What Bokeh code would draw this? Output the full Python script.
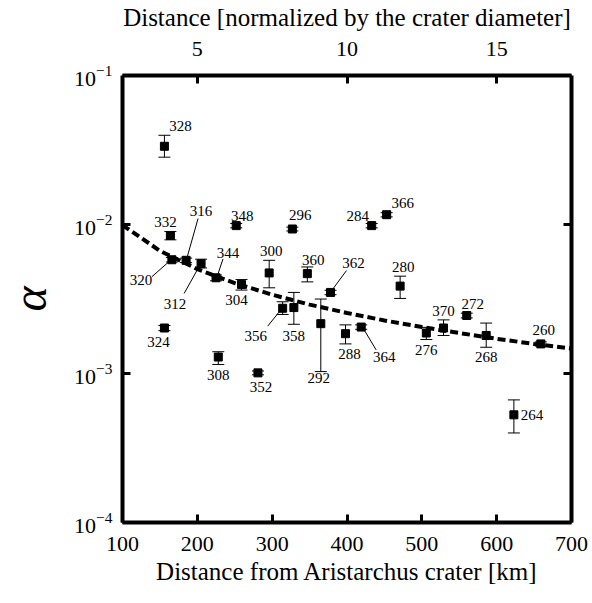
from bokeh.plotting import figure
from bokeh.models import (ColumnDataSource, Whisker, TeeHead, LinearAxis, LogAxis,
                          Range1d, FixedTicker, LogTicker, CustomJSTickFormatter)
from bokeh.core.properties import value
from bokeh.embed import file_html
from bokeh.resources import INLINE

# ---- data ----
ids = ["328", "332", "348", "296", "284", "366", "316", "320", "312", "344",
       "304", "300", "356", "358", "324", "308", "352", "360", "362", "292",
       "288", "364", "280", "370", "276", "272", "268", "260", "264"]
dist_km = [156, 164, 252, 327, 433, 453, 185, 166, 205, 225,
           259, 296, 314, 329, 156, 228, 281, 347, 378, 365,
           398, 419, 471, 529, 506, 560, 586, 659, 623]
alpha = [0.0335, 0.00844, 0.00983, 0.00933, 0.00983, 0.01164, 0.00575, 0.00580, 0.00546, 0.00439,
         0.00396, 0.00473, 0.00274, 0.00277, 0.00202, 0.00129, 0.00101, 0.00468, 0.00350, 0.00216,
         0.00185, 0.00205, 0.00386, 0.00202, 0.00187, 0.00245, 0.00180, 0.00158, 0.000528]
alpha_lo = [0.0283, 0.00789, 0.00950, 0.00905, 0.00950, 0.01125, 0.00555, 0.00560, 0.00511, 0.00419,
            0.00363, 0.00376, 0.00249, 0.00214, 0.00194, 0.00115, 0.00098, 0.00412, 0.00338, 0.00103,
            0.00158, 0.00198, 0.00319, 0.00180, 0.00169, 0.00236, 0.00150, 0.00153, 0.000399]
alpha_hi = [0.0397, 0.00897, 0.01015, 0.00960, 0.01015, 0.01200, 0.00595, 0.00600, 0.00585, 0.00458,
            0.00427, 0.00575, 0.00303, 0.00350, 0.00210, 0.00140, 0.00104, 0.00519, 0.00362, 0.00316,
            0.00212, 0.00212, 0.00450, 0.00229, 0.00204, 0.00254, 0.00218, 0.00163, 0.000665]

fit_km = [100, 150, 200, 250, 300, 350, 400, 450, 500, 550, 600, 650, 700]
fit_alpha = [0.0099, 0.00666, 0.00502, 0.00404, 0.00338, 0.00290, 0.00255,
             0.00227, 0.00205, 0.00187, 0.00171, 0.00158, 0.00147]

x_ticks = [100, 200, 300, 400, 500, 600, 700]
top_ticks = [5, 10, 15]

# ---- label placement (screen px offsets from each point; +dy = down) ----
label_dx = [16, -5, 6, 8, -14, 16, 15, -31, -26, 12,
            -5, 2, -27, 0, -6, 0, 3, 6, 23, -2,
            4, 23, 3, 0, 0, 6, 0, 3, 18]
label_dy = [-20, -13, -10, -14, -10, -12, -49, 20, 40, -25,
            16, -22, 28, 28, 14, 18, 14, -14, -29, 54,
            20, 30, -19, -17, 17, -12, 22, -14, 0]
# leader lines: id -> (dx0, dy0, dx1, dy1) in px relative to point
leaders = {"316": (12, -42, 1, -3), "320": (-20, 17, -3, 2), "312": (-17, 30, -2, 3),
           "344": (7, -19, 2, -4), "356": (-15, 18, -3, 3), "362": (16, -22, 2, -3),
           "364": (15, 23, 3, 3)}

W, H = 592, 587
BL, BT = 120, 72
FRAME_W, FRAME_H = 451, 450
BR = W - BL - FRAME_W
BB = H - BT - FRAME_H
X0, X1 = 100, 700
PX_PER_KM = FRAME_W / (X1 - X0)
PX_PER_DEC = FRAME_H / 3.0

SERIF = "Liberation Serif"

p = figure(width=W, height=H,
           x_range=Range1d(X0, X1), y_range=Range1d(1e-4, 1e-1),
           y_axis_type="log", output_backend="svg", toolbar_location=None,
           min_border_left=BL, min_border_top=BT, min_border_right=BR,
           min_border_bottom=BB, x_axis_location="below", y_axis_location="left")
p.grid.visible = False
p.outline_line_color = None

def style_axis(ax, label_size="22px"):
    ax.axis_line_width = 4
    ax.axis_line_color = "black"
    ax.major_tick_in = 8
    ax.major_tick_out = 0
    ax.major_tick_line_width = 3
    ax.minor_tick_in = 0
    ax.minor_tick_out = 0
    ax.major_label_text_font = SERIF
    ax.major_label_text_font_size = label_size
    ax.major_label_text_color = "black"
    ax.axis_label_text_font = SERIF
    ax.axis_label_text_font_style = "normal"
    ax.axis_label_text_color = "black"

# bottom axis
xb = p.xaxis[0]
style_axis(xb, "22px")
xb.ticker = FixedTicker(ticks=x_ticks)
xb.axis_label = "Distance from Aristarchus crater [km]"
xb.axis_label_text_font_size = "25px"
xb.major_label_standoff = 14
xb.axis_label_standoff = 4

# left axis
yl = p.yaxis[0]
style_axis(yl, "22px")
yl.ticker = LogTicker(num_minor_ticks=0)
yl.major_label_standoff = 10
yl.axis_label = "α"
yl.axis_label_text_font_style = "italic"
yl.axis_label_text_font_size = "48px"
yl.axis_label_standoff = 15

# top axis
p.extra_x_ranges = {"norm": Range1d(X0 / 40.0, X1 / 40.0)}
xt = LinearAxis(x_range_name="norm", ticker=FixedTicker(ticks=top_ticks),
                axis_label="Distance [normalized by the crater diameter]")
style_axis(xt, "22px")
xt.axis_label_text_font_size = "25px"
xt.major_label_standoff = 20
xt.axis_label_standoff = 8
p.add_layout(xt, "above")

# right axis (ticks only)
yr = LogAxis(ticker=LogTicker(num_minor_ticks=0),
             formatter=CustomJSTickFormatter(code="return ''"))
style_axis(yr, "1px")
yr.major_label_standoff = 0
p.add_layout(yr, "right")

# fit line
p.line(fit_km, fit_alpha, line_color="black", line_width=4, line_dash="8 4")

src = ColumnDataSource(dict(x=dist_km, y=alpha, lo=alpha_lo, hi=alpha_hi, id=ids,
                            dx=label_dx, dy=label_dy))
w = Whisker(source=src, base="x", lower="lo", upper="hi", dimension="height",
            line_color="black", line_width=1,
            lower_head=TeeHead(size=12, line_width=1, line_color="black"),
            upper_head=TeeHead(size=12, line_width=1, line_color="black"))
p.add_layout(w)

p.scatter("x", "y", source=src, marker="square", size=8, color="black")

# leader lines converted from px offsets to data coords
lx0, ly0, lx1, ly1 = [], [], [], []
for i, k in enumerate(ids):
    if k in leaders:
        a, b, c, d = leaders[k]
        lx0.append(dist_km[i] + a / PX_PER_KM)
        ly0.append(alpha[i] * 10 ** (-b / PX_PER_DEC))
        lx1.append(dist_km[i] + c / PX_PER_KM)
        ly1.append(alpha[i] * 10 ** (-d / PX_PER_DEC))
p.segment(lx0, ly0, lx1, ly1, line_color="black", line_width=1)

p.text("x", "y", text="id", source=src, x_offset="dx", y_offset="dy",
       text_align="center", text_baseline="middle",
       text_font=value(SERIF), text_font_size="15px", text_color="black")

open("out.html", "w").write(file_html(p, INLINE))
